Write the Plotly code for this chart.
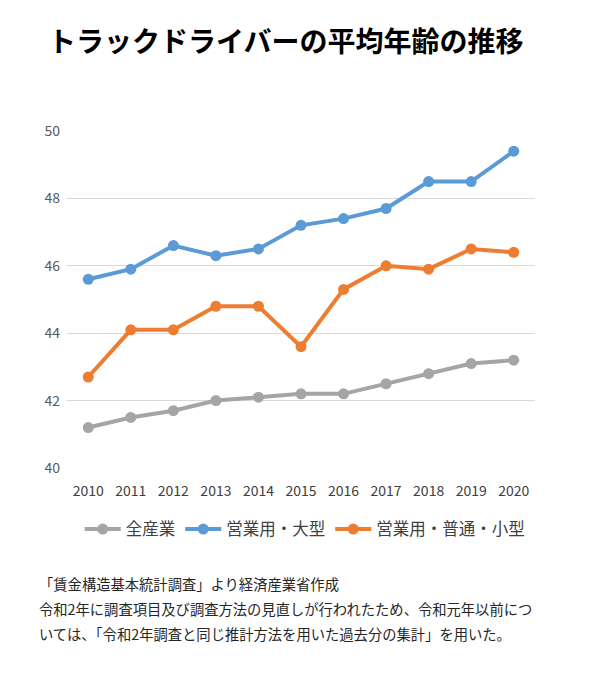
import plotly.graph_objects as go

years = ["2010", "2011", "2012", "2013", "2014", "2015", "2016", "2017", "2018", "2019", "2020"]
all_industry = [41.2, 41.5, 41.7, 42.0, 42.1, 42.2, 42.2, 42.5, 42.8, 43.1, 43.2]
large_truck = [45.6, 45.9, 46.6, 46.3, 46.5, 47.2, 47.4, 47.7, 48.5, 48.5, 49.4]
small_truck = [42.7, 44.1, 44.1, 44.8, 44.8, 43.6, 45.3, 46.0, 45.9, 46.5, 46.4]
y_ticks = [40, 42, 44, 46, 48, 50]

font_jp = "Noto Sans CJK JP"

fig = go.Figure()
series = [
    ("全産業", all_industry, "#a5a5a5"),
    ("営業用・大型", large_truck, "#5b9bd5"),
    ("営業用・普通・小型", small_truck, "#ed7d31"),
]
for name, vals, col in series:
    fig.add_trace(go.Scatter(x=years, y=vals, name=name, mode="lines+markers",
                             line=dict(color=col, width=4),
                             marker=dict(color=col, size=11)))

fig.update_layout(
    width=596, height=683,
    margin=dict(l=59, r=69, t=123, b=223),
    paper_bgcolor="white", plot_bgcolor="white",
    font=dict(family=font_jp, color="#595959", size=14),
    title=dict(text="<b>トラックドライバーの平均年齢の推移</b>",
               x=0.466, xanchor="center", y=0.950, yanchor="middle",
               font=dict(size=28, color="black", family=font_jp)),
    legend=dict(orientation="h", x=0.508, xanchor="center", y=-0.13, yanchor="top",
                font=dict(size=16.5, color="#404040"), traceorder="normal",
                itemwidth=36),
)
fig.update_xaxes(type="category", range=[-0.5, 10.5], showgrid=False, showline=False,
                 ticks="", ticklabelstandoff=13, tickfont=dict(size=14, color="#404040"))
fig.update_yaxes(range=[40, 50], tickvals=y_ticks, showgrid=True, gridcolor="#d9d9d9",
                 gridwidth=1.2, zeroline=False, showline=False, ticks="",
                 ticklabelstandoff=6, tickfont=dict(size=14, color="#595959"))

notes = [
    "「賃金構造基本統計調査」より経済産業省作成",
    "令和2年に調査項目及び調査方法の見直しが行われたため、令和元年以前につ",
    "いては、「令和2年調査と同じ推計方法を用いた過去分の集計」を用いた。",
]
for i, t in enumerate(notes):
    fig.add_annotation(text=t, xref="paper", yref="paper", x=-0.064, xanchor="left",
                       y=-0.342 - i * 0.0745, yanchor="middle", showarrow=False,
                       font=dict(size=14.3, color="#262626", family=font_jp))

fig.write_html("out.html")
